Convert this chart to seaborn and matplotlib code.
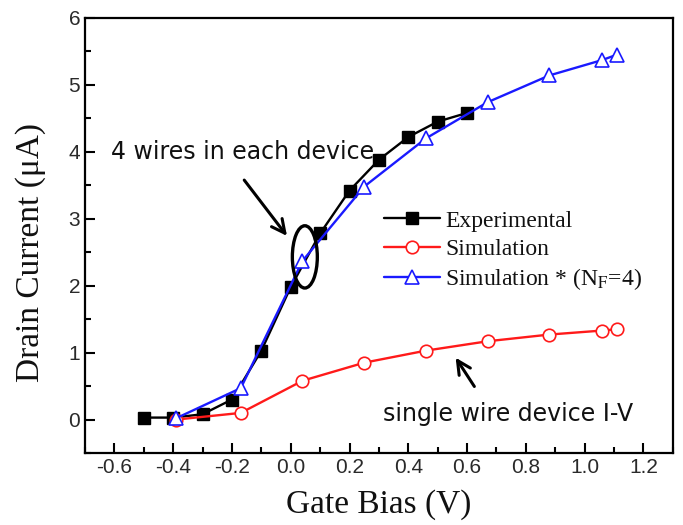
import matplotlib
matplotlib.use("Agg")
import matplotlib.pyplot as plt
from matplotlib.patches import Ellipse
from matplotlib.ticker import MultipleLocator
import seaborn as sns
import pandas as pd

# ---- data ----
exp_x = [-0.5, -0.4, -0.3, -0.2, -0.1, 0.0, 0.1, 0.2, 0.3, 0.4, 0.5, 0.6]
exp_y = [0.03, 0.03, 0.08, 0.30, 1.03, 1.98, 2.78, 3.42, 3.88, 4.22, 4.45, 4.58]

sim_x = [-0.39, -0.17, 0.04, 0.25, 0.46, 0.67, 0.88, 1.06, 1.11]
sim_y = [0.00, 0.10, 0.58, 0.85, 1.03, 1.17, 1.27, 1.33, 1.35]

sim4_x = [-0.39, -0.17, 0.04, 0.25, 0.46, 0.67, 0.88, 1.06, 1.11]
sim4_y = [0.02, 0.47, 2.37, 3.48, 4.20, 4.74, 5.14, 5.37, 5.45]

labels = ["Experimental", "Simulation", r"Simulation * (N$_\mathrm{F}$=4)"]
x_label = "Gate Bias (V)"
y_label = "Drain Current (μA)"
x_ticks = [-0.6, -0.4, -0.2, 0.0, 0.2, 0.4, 0.6, 0.8, 1.0, 1.2]
y_ticks = [0, 1, 2, 3, 4, 5, 6]

sns.set_theme(style="ticks")
plt.rcParams["font.family"] = ["DejaVu Sans"]
plt.rcParams["mathtext.fontset"] = "stix"

fig = plt.figure(figsize=(6.83, 5.25), dpi=100)
ax = fig.add_axes([0.1245, 0.137, 0.8605, 0.829])

df_exp = pd.DataFrame({"x": exp_x, "y": exp_y})
df_sim = pd.DataFrame({"x": sim_x, "y": sim_y})
df_sim4 = pd.DataFrame({"x": sim4_x, "y": sim4_y})

sns.lineplot(data=df_exp, x="x", y="y", ax=ax, color="black", lw=1.7,
             marker="s", markersize=9, markerfacecolor="black",
             markeredgecolor="black", markeredgewidth=1.0, label=labels[0])
sns.lineplot(data=df_sim, x="x", y="y", ax=ax, color="#ff1a1a", lw=1.7,
             marker="o", markersize=9, markerfacecolor="white",
             markeredgecolor="#ff1a1a", markeredgewidth=1.2, label=labels[1])
sns.lineplot(data=df_sim4, x="x", y="y", ax=ax, color="#1a1aff", lw=1.7,
             marker="^", markersize=10, markerfacecolor="white",
             markeredgecolor="#1a1aff", markeredgewidth=1.2, label=labels[2])

ax.set_xlim(-0.7, 1.3)
ax.set_ylim(-0.5, 6)
ax.set_xticks(x_ticks)
ax.set_xticklabels([f"{t:.1f}" for t in x_ticks])
ax.set_yticks(y_ticks)
ax.set_yticklabels([str(t) for t in y_ticks])
ax.xaxis.set_minor_locator(MultipleLocator(0.1))
ax.yaxis.set_minor_locator(MultipleLocator(0.5))
ax.tick_params(which="both", direction="in", top=False, right=False,
               width=1.5, colors="black")
ax.tick_params(which="major", length=7)
ax.tick_params(which="minor", length=4)
for lab in ax.get_xticklabels() + ax.get_yticklabels():
    lab.set_family("Liberation Sans")
    lab.set_fontsize(15)
    lab.set_color("#2a2a2a")
for sp in ax.spines.values():
    sp.set_linewidth(1.6)
    sp.set_color("black")

ax.set_xlabel(x_label, family="Liberation Serif", fontsize=24, color="#111111", labelpad=9)
ax.set_ylabel(y_label, family="Liberation Serif", fontsize=24, color="#111111")
ax.yaxis.set_label_coords(-0.067, 0.461)

leg = ax.legend(loc="upper left", bbox_to_anchor=(0.508, 0.558), frameon=False,
                prop={"family": "Liberation Serif", "size": 17},
                handlelength=2.4, handletextpad=0.2, labelspacing=0.28,
                borderaxespad=0, borderpad=0)
for t in leg.get_texts():
    t.set_color("#111111")

# annotations
ax.text(-0.61, 4.0, "4 wires in each device", fontsize=17, va="center", ha="left",
        color="#111111")
ax.annotate("", xy=(-0.007, 2.71), xytext=(-0.164, 3.61),
            arrowprops=dict(arrowstyle="->", lw=2.2, color="black",
                            mutation_scale=24))
ax.add_patch(Ellipse((0.048, 2.43), 0.085, 0.93, fill=False, lw=2.4,
                     edgecolor="black", zorder=5))

ax.text(0.314, 0.09, "single wire device I-V", fontsize=17, va="center", ha="left",
        color="#111111")
ax.annotate("", xy=(0.556, 0.96), xytext=(0.63, 0.46),
            arrowprops=dict(arrowstyle="->", lw=2.2, color="black",
                            mutation_scale=24))

fig.savefig("out.png", dpi=100)
